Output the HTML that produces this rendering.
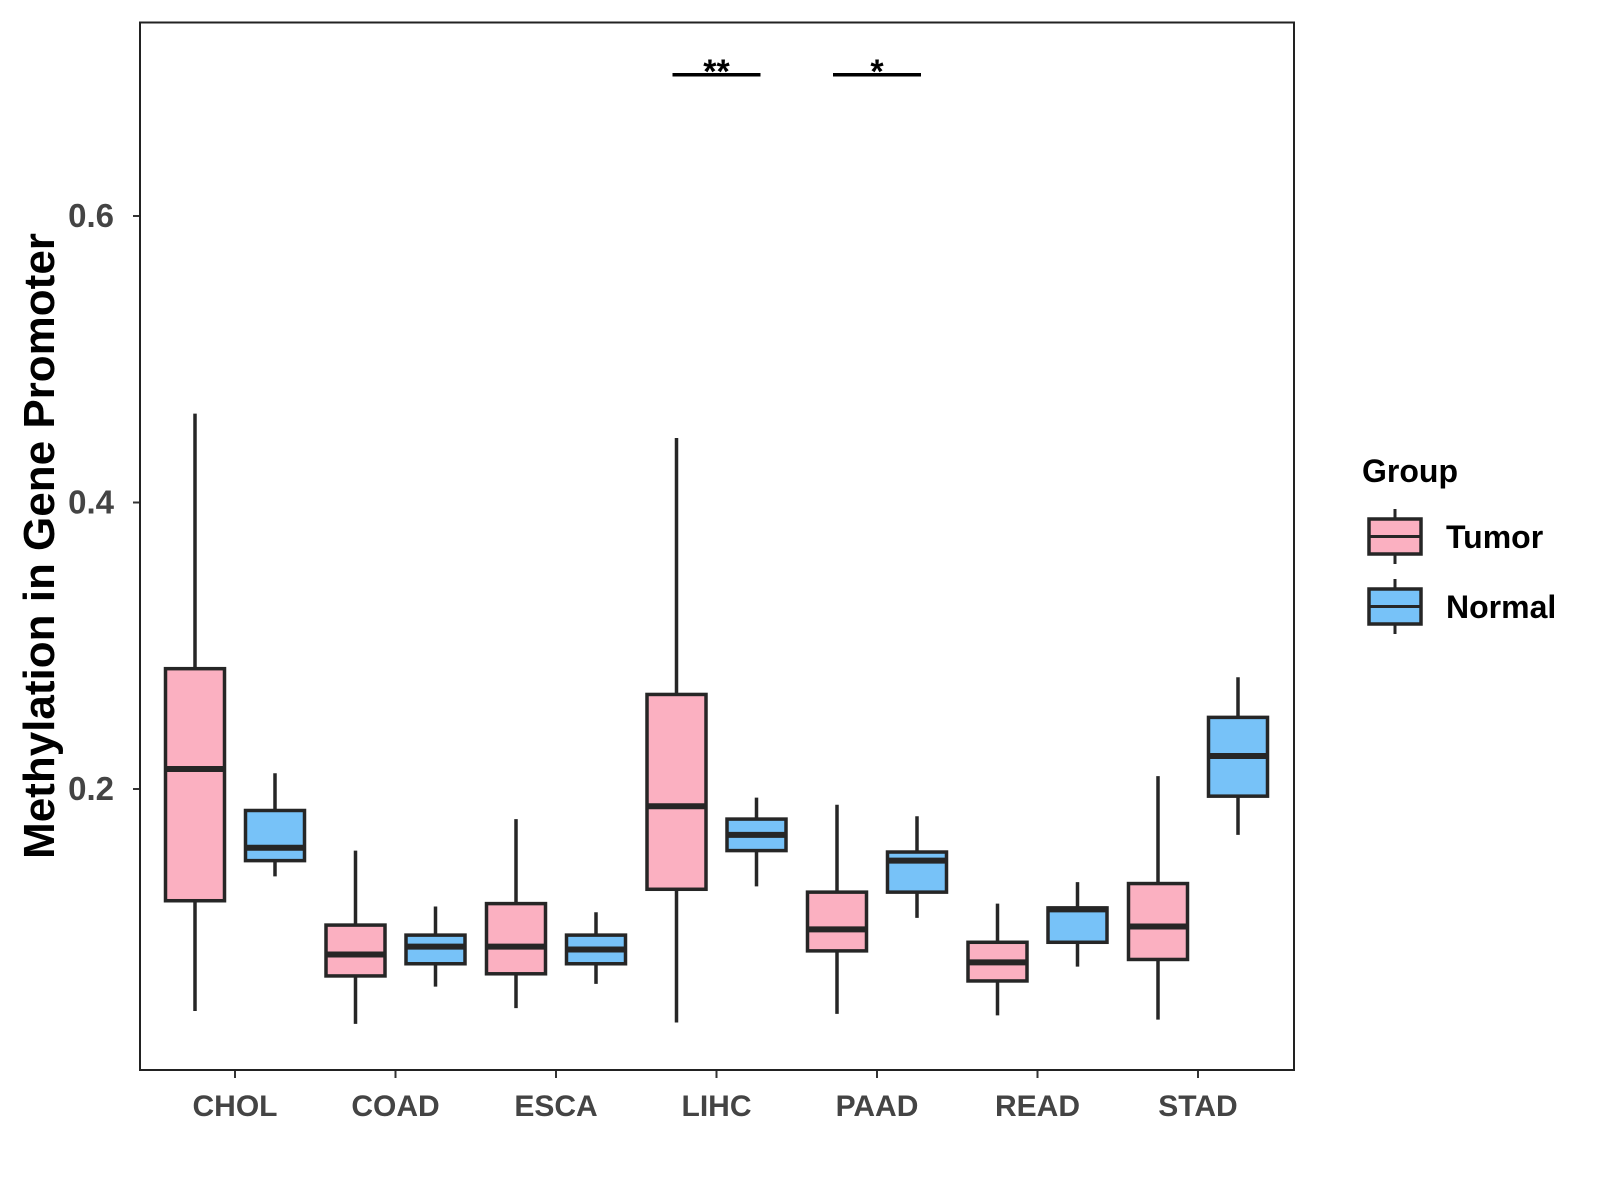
<!DOCTYPE html>
<html><head><meta charset="utf-8"><style>body{margin:0;background:#fff}svg{display:block;font-family:"Liberation Sans",Arial,sans-serif}</style></head>
<body>
<svg id="c" width="1600" height="1200"></svg>
<script>
const categories=["CHOL","COAD","ESCA","LIHC","PAAD","READ","STAD"];
const groups=["Tumor","Normal"];
// [lowWhisker, Q1, median, Q3, highWhisker]
const tumorStats=[[0.045,0.122,0.214,0.284,0.462],[0.036,0.0695,0.0845,0.105,0.157],[0.047,0.071,0.090,0.120,0.179],[0.037,0.130,0.188,0.266,0.445],[0.043,0.087,0.102,0.128,0.189],[0.042,0.066,0.079,0.093,0.120],[0.039,0.081,0.104,0.134,0.209]];
const normalStats=[[0.139,0.150,0.159,0.185,0.211],[0.062,0.078,0.090,0.098,0.118],[0.064,0.078,0.088,0.098,0.114],[0.132,0.157,0.168,0.179,0.194],[0.110,0.128,0.150,0.156,0.181],[0.076,0.093,0.116,0.117,0.135],[0.168,0.195,0.223,0.250,0.278]];
const yTicks=[0.2,0.4,0.6];
const sigCats=["LIHC","PAAD"];
const sigLabels=["**","*"];
const sigLevel=0.6986;

const NS="http://www.w3.org/2000/svg",svg=document.getElementById('c');
function el(t,a,txt){const e=document.createElementNS(NS,t);for(const k in a)e.setAttribute(k,a[k]);if(txt!=null)e.textContent=txt;svg.appendChild(e);return e;}
const L=140,R=1294,T=22.5,B=1070;
const y=v=>789-(v-0.2)*1432.5;
const xc=i=>235+i*160.5;
const off=40,bw=59;
const fills=["#FBB0C1","#77C2F8"];
yTicks.forEach(t=>{
 let e=el('line',{x1:L-7,x2:L,y1:y(t),y2:y(t),stroke:'#333','stroke-width':2});
 
 e=el('text',{x:L-26,y:y(t)+11,'text-anchor':'end','font-size':33,'font-weight':'bold',fill:'#444'},t.toFixed(1));
 
});
categories.forEach((c,i)=>{
 let e=el('line',{x1:xc(i),x2:xc(i),y1:B,y2:B+8,stroke:'#333','stroke-width':2});
 
 e=el('text',{x:xc(i),y:1116,'text-anchor':'middle','font-size':30,'font-weight':'bold',fill:'#444'},c);
 
 [tumorStats[i],normalStats[i]].forEach((s,g)=>{
  const cx=xc(i)+(g?off:-off);
  let w=el('line',{x1:cx,x2:cx,y1:y(s[0]),y2:y(s[4]),stroke:'#262626','stroke-width':3.5});
  
  let b=el('rect',{x:cx-bw/2,y:y(s[3]),width:bw,height:y(s[1])-y(s[3]),fill:fills[g],stroke:'#262626','stroke-width':3.5});
  
  let m=el('line',{x1:cx-bw/2,x2:cx+bw/2,y1:y(s[2]),y2:y(s[2]),stroke:'#262626','stroke-width':6});
  
 });
});
sigCats.forEach((c,k)=>{
 const i=categories.indexOf(c);
 let e=el('line',{x1:xc(i)-44,x2:xc(i)+44,y1:y(sigLevel),y2:y(sigLevel),stroke:'#000','stroke-width':3.5});
 
 e=el('text',{x:xc(i),y:y(sigLevel)+8,'text-anchor':'middle','font-size':34,'font-weight':'bold',fill:'#000'},sigLabels[k]);
 
});
let p=el('rect',{x:L,y:T,width:R-L,height:B-T,fill:'none',stroke:'#222','stroke-width':2});

let yt=el('text',{x:0,y:0,transform:'translate(54,546) rotate(-90)','text-anchor':'middle','font-size':44,'font-weight':'bold',fill:'#000'},'Methylation in Gene Promoter');

let lt=el('text',{x:1362,y:482,'font-size':32,'font-weight':'bold',fill:'#000'},'Group');

groups.forEach((g,k)=>{
 const top=519+k*70,cx=1395;
 let e=el('line',{x1:cx,x2:cx,y1:top-10,y2:top+45,stroke:'#262626','stroke-width':3});
 
 e=el('rect',{x:1369,y:top,width:52,height:35,fill:fills[k],stroke:'#262626','stroke-width':3.5});
 
 e=el('line',{x1:1369,x2:1421,y1:top+17.5,y2:top+17.5,stroke:'#262626','stroke-width':3});
 
 e=el('text',{x:1446,y:top+29,'font-size':32,'font-weight':'bold',fill:'#000'},g);
 
});
</script>
</body></html>
